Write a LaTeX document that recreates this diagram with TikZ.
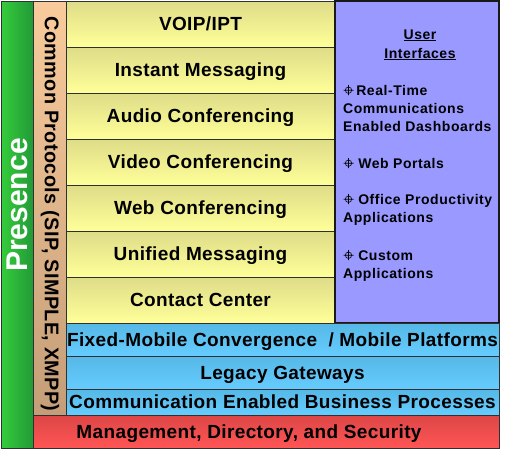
\documentclass[tikz,border=0pt]{standalone}
\usepackage{fontspec}
\setmainfont{Liberation Sans}
\newfontfamily\bandfont{Liberation Sans}[LetterSpace=2]
\newfontfamily\panelfont{Liberation Sans}[LetterSpace=4]

\definecolor{greenL}{HTML}{35CC3A}
\definecolor{greenR}{HTML}{229A38}
\definecolor{peachT}{HTML}{F9CB9C}
\definecolor{peachB}{HTML}{C49E78}
\definecolor{yellowT}{HTML}{DEDC88}
\definecolor{yellowB}{HTML}{FFFF99}
\definecolor{panel}{HTML}{9999FF}
\definecolor{blueT}{HTML}{55B8E6}
\definecolor{blueB}{HTML}{66CCFF}
\definecolor{redT}{HTML}{DD4646}
\definecolor{redB}{HTML}{FF5555}
\definecolor{edge}{HTML}{303030}

% small crosshair bullet used in the side panel
\newcommand\xhair{\tikz[baseline={(0pt,-4.8pt)}]{%
  \draw[line width=0.6pt] (0pt,0pt) circle[radius=3.2pt]
    (-5pt,0pt) -- (5pt,0pt) (0pt,-5pt) -- (0pt,5pt);}}

\tikzset{
  band/.style={draw=edge, line width=0.8pt, inner sep=0pt, outer sep=0pt,
    anchor=north west, text height=13.6pt, text depth=0pt,
    font=\bandfont\bfseries\fontsize{19}{22}\selectfont},
  yband/.style={band, top color=yellowT, bottom color=yellowB,
    minimum width=269pt, minimum height=46pt},
  bband/.style={band, top color=blueT, bottom color=blueB, minimum width=433pt},
  paneltext/.style={anchor=base west, inner sep=0pt, align=left,
    font=\panelfont\bfseries\fontsize{14}{18}\selectfont},
}

\begin{document}
\begin{tikzpicture}[x=1pt,y=-1pt]
\useasboundingbox (0,0) rectangle (508,451);

% side columns
\node[band, left color=greenL, right color=greenR,
      minimum width=32pt, minimum height=447pt] (presbar) at (1,1) {};
\node[band, top color=peachT, bottom color=peachB,
      minimum width=33pt, minimum height=414pt] (protobar) at (33,1) {};

% application layers
\node[yband] (voip)  at (66,1)   {VOIP/IPT};
\node[yband] (im)    at (66,47)  {Instant Messaging};
\node[yband] (audio) at (66,93)  {Audio Conferencing};
\node[yband] (video) at (66,139) {Video Conferencing};
\node[yband] (web)   at (66,185) {Web Conferencing};
\node[yband] (um)    at (66,231) {Unified Messaging};
\node[yband] (cc)    at (66,277) {Contact Center};

% user interface panel
\node[band, draw=black!90, line width=2pt, fill=panel,
      minimum width=164pt, minimum height=322pt] (ui) at (335,1) {};

% lower layers
\node[bband, minimum height=33pt] (fmc)    at (66,323) {Fixed-Mobile Convergence\ \ / Mobile Platforms};
\node[bband, minimum height=33pt] (legacy) at (66,356) {Legacy Gateways};
\node[bband, minimum height=26pt] (cebp)   at (66,389) {Communication Enabled Business Processes};
\node[band, top color=redT, bottom color=redB,
      minimum width=466pt, minimum height=33pt] (mgmt) at (33,415) {};
\node[font=\bandfont\bfseries\fontsize{19}{22}\selectfont, inner sep=0pt,
      text height=13.6pt, text depth=0pt]
  (mgmtlabel) at (249,432) {Management, Directory, and Security};

% vertical labels
\node[rotate=90, text=white, inner sep=0pt,
      font=\bfseries\fontsize{30}{34}\selectfont] (presence) at (17,205) {Presence};
\node[rotate=-90, inner sep=0pt,
      font=\bandfont\bfseries\fontsize{19.8}{22}\selectfont] (protocols) at (50,214)
  {Common Protocols (SIP, SIMPLE, XMPP)};

% panel contents (each block is anchored on the baseline of its last line)
\node[paneltext, anchor=base] (uititle1) at (420,39) {\underline{User}};
\node[paneltext, anchor=base] (uititle2) at (420,58) {\underline{Interfaces}};
\node[paneltext] (dash)   at (343,131) {\xhair\hspace{2.5pt}Real-Time\\Communications\\Enabled Dashboards};
\node[paneltext] (portal) at (343,168) {\xhair\ Web Portals};
\node[paneltext] (office) at (343,222) {\xhair\ Office Productivity\\Applications};
\node[paneltext] (custom) at (343,278) {\xhair\ Custom\\Applications};
\end{tikzpicture}
\end{document}
